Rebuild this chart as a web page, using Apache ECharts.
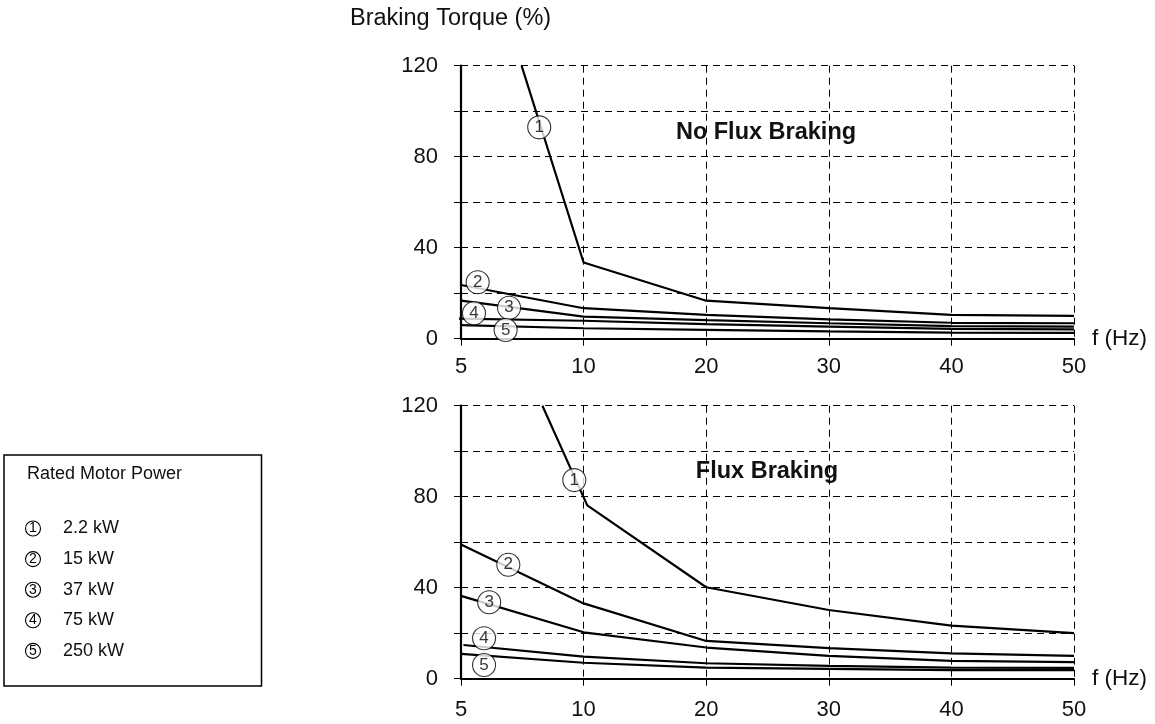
<!DOCTYPE html>
<html>
<head>
<meta charset="utf-8">
<script src="https://cdn.jsdelivr.net/npm/echarts@6/dist/echarts.min.js"></script>
<style>
html,body{margin:0;padding:0;background:#fff;}
#chart{width:1155px;height:724px;}
</style>
</head>
<body>
<div id="chart"></div>
<script>
// ---- data ----
const xTicks = [5, 10, 20, 30, 40, 50];           // f (Hz), equally spaced on the axis
const yTickLabels = [0, 40, 80, 120];
const seriesNames = ['1', '2', '3', '4', '5'];
const powers = ['2.2 kW', '15 kW', '37 kW', '75 kW', '250 kW'];
const legendTitle = 'Rated Motor Power';
const yTitle = 'Braking Torque (%)';
const xName = 'f (Hz)';
const panelTitles = ['No Flux Braking', 'Flux Braking'];

// No Flux Braking: [f (Hz), torque %]
const noFlux1 = [[7.47, 120], [10, 33.5], [20, 16.7], [30, 13.4], [40, 10.5], [50, 10]];
const noFlux2 = [[5, 23.6], [10, 13.4], [20, 10.5], [30, 8.5], [40, 7.0], [50, 6.8]];
const noFlux3 = [[5, 16.7], [10, 9.7], [20, 8.2], [30, 6.8], [40, 5.5], [50, 5.3]];
const noFlux4 = [[4.9, 8.8], [10, 7.9], [20, 6.4], [30, 5.3], [40, 4.3], [50, 4.1]];
const noFlux5 = [[5, 6.0], [10, 4.6], [20, 3.9], [30, 3.2], [40, 2.7], [50, 2.6]];

// Flux Braking
const flux1 = [[8.32, 120], [10.3, 76.2], [20, 40.2], [30, 30.2], [40, 23.3], [50, 20]];
const flux2 = [[5, 59], [10, 33.1], [20, 16.6], [30, 13.4], [40, 11.1], [50, 10]];
const flux3 = [[5, 36.4], [10, 20.4], [20, 13.7], [30, 10], [40, 7.8], [50, 7.3]];
const flux4 = [[5.1, 14.8], [10, 9.7], [20, 6.8], [30, 5.6], [40, 4.9], [50, 4.8]];
const flux5 = [[5, 10.9], [10, 7.0], [20, 4.9], [30, 4.3], [40, 3.8], [50, 3.8]];

// circled curve markers [f, torque]
const noFluxMarkers = [[8.19, 92.9], [5.68, 24.8], [6.96, 13.6], [5.53, 11.2], [6.82, 3.8]];
const fluxMarkers = [[9.62, 87.3], [6.93, 50.1], [6.15, 33.6], [5.94, 17.8], [5.94, 6.0]];

// ---- helpers ----
function toPos(f) {
  if (f <= xTicks[0]) return (f - xTicks[0]) / (xTicks[1] - xTicks[0]);
  for (let i = 0; i < xTicks.length - 1; i++) {
    if (f <= xTicks[i + 1]) return i + (f - xTicks[i]) / (xTicks[i + 1] - xTicks[i]);
  }
  return xTicks.length - 1;
}
const mapData = arr => arr.map(p => [toPos(p[0]), p[1]]);

const FONT = '"Liberation Sans", Arial, Helvetica, sans-serif';
const panels = [
  { lines: [noFlux1, noFlux2, noFlux3, noFlux4, noFlux5], markers: noFluxMarkers, top: 65.7, labelMargin: 17 },
  { lines: [flux1, flux2, flux3, flux4, flux5], markers: fluxMarkers, top: 405.7, labelMargin: 20 }
];

const grid = [], xAxis = [], yAxis = [], series = [];
panels.forEach((p, k) => {
  grid.push({ left: 461, right: 81, top: p.top, height: 273, containLabel: false });
  xAxis.push({
    type: 'value', gridIndex: k, min: 0, max: xTicks.length - 1, interval: 1,
    name: xName, nameLocation: 'end', nameGap: 18,
    nameTextStyle: { fontFamily: FONT, fontSize: 22.5, color: '#111', verticalAlign: 'middle' },
    axisLine: { onZero: false, lineStyle: { color: '#000', width: 2.2 } },
    axisTick: { show: true, length: 7, lineStyle: { color: '#000', width: 1 } },
    axisLabel: { margin: p.labelMargin, fontFamily: FONT, fontSize: 22, color: '#111',
      formatter: v => (xTicks[Math.round(v)] !== undefined ? String(xTicks[Math.round(v)]) : '') },
    splitLine: { show: true, lineStyle: { color: '#000', width: 1, type: [7, 5] } }
  });
  yAxis.push({
    type: 'value', gridIndex: k, min: 0, max: 120, interval: 20,
    axisLine: { show: true, lineStyle: { color: '#000', width: 2.2 } },
    axisTick: { show: true, length: 8, lineStyle: { color: '#000', width: 1, type: [7, 5] } },
    axisLabel: { margin: 23, fontFamily: FONT, fontSize: 22, color: '#111',
      formatter: v => (yTickLabels.indexOf(v) >= 0 ? String(v) : '') },
    splitLine: { show: true, lineStyle: { color: '#000', width: 1, type: [7, 5] } }
  });
  p.lines.forEach((d, i) => {
    series.push({
      type: 'line', xAxisIndex: k, yAxisIndex: k, name: seriesNames[i],
      data: mapData(d), symbol: 'none', smooth: false, clip: true,
      lineStyle: { color: '#000', width: 2.2 }, z: 3, silent: true
    });
  });
  series.push({
    type: 'scatter', xAxisIndex: k, yAxisIndex: k,
    data: p.markers.map((m, i) => ({ value: [toPos(m[0]), m[1]], name: seriesNames[i] })),
    symbol: 'circle', symbolSize: 23,
    itemStyle: { color: '#fff', borderColor: '#000', borderWidth: 1.1 },
    label: { show: true, position: 'inside', formatter: '{b}', fontFamily: FONT, fontSize: 17, color: '#000' },
    z: 5, silent: true
  });
});

// legend box & texts as graphics
const graphic = [
  { type: 'text', left: 350, top: 7, style: { text: yTitle, font: '23.5px ' + FONT, fill: '#111' } },
  { type: 'text', x: 766, y: 133, style: { text: panelTitles[0], font: 'bold 23.5px ' + FONT, fill: '#111', textAlign: 'center', textVerticalAlign: 'middle' } },
  { type: 'text', x: 767, y: 472, style: { text: panelTitles[1], font: 'bold 23.5px ' + FONT, fill: '#111', textAlign: 'center', textVerticalAlign: 'middle' } },
  { type: 'rect', shape: { x: 4, y: 455, width: 257.5, height: 231 }, style: { fill: '#fff', stroke: '#000', lineWidth: 1.5 } },
  { type: 'text', x: 27, y: 474, style: { text: legendTitle, font: '18px ' + FONT, fill: '#111', textVerticalAlign: 'middle' } }
];
powers.forEach((pw, i) => {
  const cy = 528.5 + i * 30.6;
  graphic.push({ type: 'circle', shape: { cx: 33, cy: cy, r: 7.5 }, style: { fill: '#fff', stroke: '#000', lineWidth: 1.1 } });
  graphic.push({ type: 'text', x: 33, y: cy, style: { text: seriesNames[i], font: '14px ' + FONT, fill: '#000', textAlign: 'center', textVerticalAlign: 'middle' } });
  graphic.push({ type: 'text', x: 63, y: cy, style: { text: pw, font: '18px ' + FONT, fill: '#111', textVerticalAlign: 'middle' } });
});

const chart = echarts.init(document.getElementById('chart'), null, { renderer: 'canvas' });
chart.setOption({
  animation: false,
  backgroundColor: '#fff',
  grid, xAxis, yAxis, series, graphic
});
</script>
</body>
</html>
